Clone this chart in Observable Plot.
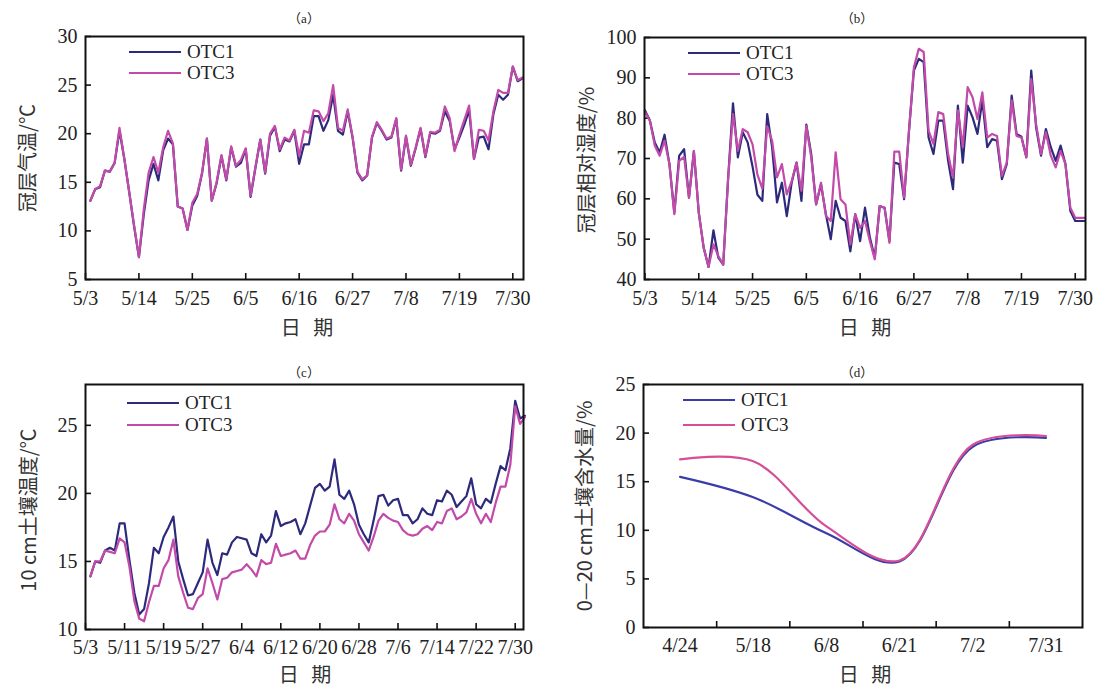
<!DOCTYPE html>
<html><head><meta charset="utf-8">
<script src="https://cdn.jsdelivr.net/npm/d3@7"></script>
<script src="https://cdn.jsdelivr.net/npm/@observablehq/plot@0.6"></script>
<style>
body{margin:0;background:#fff;}
#root{position:relative;width:1099px;height:697px;overflow:hidden;background:#fff;font-family:"Liberation Serif","Noto Sans CJK SC",serif;color:#222;}
.panel{position:absolute;}
.t{position:absolute;white-space:nowrap;color:#222;line-height:1;}
.ylab{position:absolute;white-space:nowrap;font-size:20px;line-height:1;transform:translate(-50%,-50%) rotate(-90deg);font-family:"Noto Sans CJK SC","Liberation Serif",sans-serif;color:#333;}
.xlab{position:absolute;white-space:nowrap;font-size:20px;line-height:1;transform:translate(-50%,-50%);font-family:"Noto Sans CJK SC",sans-serif;color:#333;word-spacing:8px;}
.ptitle{position:absolute;font-size:13px;transform:translate(-50%,-50%);font-family:"Liberation Serif","Noto Sans CJK SC",serif;}
.leg{position:absolute;font-size:19px;font-family:"Liberation Serif",serif;}
.leg .row{display:flex;align-items:center;}
.leg svg{margin-right:6px;}
</style>
</head><body>
<div id="root"></div>
<script>
// ---------------- data ----------------
const YEAR = 2015;
const seriesNames = ["OTC1", "OTC3"];

// (a) canopy air temperature, daily from 5/4
const airTempStart = "5/4";
const airTempOTC1 = [13.1,14.3,14.5,16.2,16.1,17.0,20.3,17.4,14.0,10.5,7.3,11.7,15.2,16.9,15.2,18.3,19.5,18.9,12.5,12.3,10.1,12.6,13.6,15.9,19.5,13.1,14.9,17.7,15.2,18.6,16.6,17.0,18.4,13.5,16.5,19.4,15.9,19.8,20.7,18.2,19.4,19.2,20.3,16.9,18.9,18.9,21.8,21.8,20.3,21.4,24.0,20.3,19.9,22.3,19.6,16.0,15.2,15.7,19.6,21.1,20.3,19.4,19.6,21.5,16.2,19.7,16.7,18.5,20.5,17.6,20.1,20.0,20.3,22.3,21.3,18.4,19.6,20.9,22.4,17.4,19.6,19.7,18.4,22.0,24.0,23.5,24.0,26.9,25.4,25.7];
const airTempOTC3 = [13.1,14.3,14.6,16.2,16.1,17.0,20.6,17.4,14.0,10.6,7.3,12.2,16.0,17.6,16.0,18.6,20.3,19.0,12.5,12.3,10.1,12.9,13.8,16.0,19.5,13.1,15.0,17.8,15.3,18.7,16.7,17.3,18.5,13.6,16.6,19.4,16.0,20.0,20.8,18.4,19.6,19.3,20.4,17.7,20.3,20.1,22.4,22.3,21.3,22.1,25.0,20.6,20.3,22.5,19.7,16.1,15.3,15.7,19.7,21.2,20.4,19.5,19.7,21.6,16.3,19.8,16.8,18.6,20.6,17.7,20.2,20.1,20.4,22.8,21.6,18.2,19.9,21.4,22.9,17.4,20.4,20.3,19.3,22.3,24.5,24.2,24.2,26.9,25.5,25.8];

// (b) canopy relative humidity, daily from 5/3
const rhStart = "5/3";
const rhOTC1 = [81.9,79.4,74.0,71.5,75.9,68.6,56.6,70.7,72.3,60.3,71.8,56.6,47.9,43.1,52.2,45.4,43.7,65.0,83.7,70.3,76.5,74.0,68.0,61.0,59.5,81.0,72.8,59.1,64.0,55.7,64.0,69.0,59.5,78.4,71.1,58.6,63.6,56.2,50.0,59.5,55.3,54.5,47.0,56.2,49.5,57.8,50.4,45.4,58.2,57.8,49.5,69.0,68.6,59.9,76.9,91.8,94.7,93.9,75.2,71.1,79.4,79.4,69.4,62.4,83.1,69.0,83.1,80.2,76.1,84.4,72.8,74.8,74.4,64.9,68.6,85.6,76.1,75.4,70.3,91.8,77.7,70.7,77.3,72.8,69.4,73.2,68.6,57.0,54.5,54.5,54.5];
const rhOTC3 = [81.5,79.4,73.2,70.7,74.4,68.6,56.2,69.4,70.4,60.3,71.9,56.6,47.9,43.1,48.7,45.8,43.7,65.0,81.0,71.9,77.3,76.5,73.5,66.0,62.5,78.0,74.4,65.3,68.6,61.1,64.4,69.0,62.0,78.1,70.3,58.6,64.0,55.8,54.5,71.5,59.9,58.6,48.7,56.2,52.8,54.5,49.5,45.0,58.2,57.8,49.1,71.7,71.7,60.3,76.9,92.6,97.2,96.4,76.9,73.6,81.5,81.0,71.1,65.3,81.9,72.8,87.7,85.2,79.8,86.4,75.2,76.1,75.6,65.7,69.0,84.4,75.6,75.2,70.3,89.7,78.5,71.1,76.5,70.7,67.8,71.9,68.6,57.8,55.3,55.3,55.3];

// (c) 10 cm soil temperature, daily from 5/4
const soilTempStart = "5/4";
const soilTempOTC1 = [13.9,15.0,14.9,15.8,16.0,15.8,17.8,17.8,15.1,12.7,11.1,11.5,13.4,16.0,15.6,16.8,17.5,18.3,15.0,13.7,12.5,12.6,13.4,14.2,16.6,14.9,14.0,15.6,15.5,16.4,16.8,16.7,16.6,15.6,15.4,17.0,16.4,16.9,18.7,17.6,17.8,17.9,18.1,17.0,17.8,19.1,20.4,20.7,20.2,20.5,22.5,19.9,19.6,20.2,19.2,17.7,17.0,16.4,18.0,19.8,19.9,19.1,19.5,19.6,18.4,18.4,17.8,18.1,18.9,18.5,18.4,19.5,19.4,20.2,19.9,19.0,19.4,19.8,21.1,19.2,18.9,19.6,19.3,20.7,22.0,21.7,23.3,26.8,25.5,25.7];
const soilTempOTC3 = [13.9,15.0,15.0,15.8,15.7,15.6,16.7,16.4,14.6,12.1,10.8,10.6,12.0,13.2,13.2,14.5,15.1,16.6,13.9,12.7,11.6,11.5,12.3,12.6,14.5,13.4,12.2,13.7,13.8,14.2,14.3,14.4,14.8,14.4,13.9,15.1,14.8,14.9,16.3,15.4,15.5,15.6,15.8,15.2,15.2,16.2,16.9,17.2,17.2,17.7,19.2,18.1,17.8,18.5,18.0,17.0,16.4,15.8,16.8,18.0,18.5,18.2,18.0,17.9,17.3,17.0,16.9,17.0,17.4,17.6,17.3,17.9,17.8,18.7,18.9,18.1,18.3,18.6,19.6,18.5,17.8,18.5,17.9,19.3,20.5,20.5,22.1,26.4,25.1,25.6];

// (d) 0-20 cm soil water content
const soilWaterDates = ["4/24","5/18","6/8","6/21","7/2","7/31"];
const soilWaterOTC1 = [15.5,13.4,9.7,6.8,18.6,19.5];
const soilWaterOTC3 = [17.3,17.1,10.4,6.9,18.8,19.7];

// tick labels
const xTicksAB = ["5/3","5/14","5/25","6/5","6/16","6/27","7/8","7/19","7/30"];
const xTicksC = ["5/3","5/11","5/19","5/27","6/4","6/12","6/20","6/28","7/6","7/14","7/22","7/30"];
const yTicksA = [5,10,15,20,25,30];
const yTicksB = [40,50,60,70,80,90,100];
const yTicksC = [10,15,20,25];
const yTicksD = [0,5,10,15,20,25];

// texts
const panelTitles = ["（a）","（b）","（c）","（d）"];
const yLabels = ["冠层气温/℃","冠层相对湿度/%","10 cm土壤温度/℃","0—20 cm土壤含水量/%"];
const xLabel = "日 期";

// ---------------- helpers ----------------
const DAY = 864e5;
function md(s){const [m,d]=s.split("/").map(Number);return new Date(Date.UTC(YEAR,m-1,d));}
function plus(s,days){return new Date(+md(s)+days*DAY);}
function daily(start, vals){return vals.map((v,i)=>({x:new Date(+md(start)+i*DAY), v}));}
const fmtMD = d => `${d.getUTCMonth()+1}/${d.getUTCDate()}`;

const root = document.getElementById("root");
function addText(cls, text, x, y, extra){const e=document.createElement("div");e.className=cls;e.textContent=text;e.style.left=x+"px";e.style.top=y+"px";if(extra)Object.assign(e.style,extra);root.appendChild(e);return e;}
function legend(x, y, rowH, colors){
  const box=document.createElement("div");box.className="leg";box.style.left=x+"px";box.style.top=y+"px";
  seriesNames.forEach((n,i)=>{
    const r=document.createElement("div");r.className="row";r.style.height=rowH+"px";
    r.innerHTML=`<svg width="52" height="6"><line x1="0" x2="52" y1="3" y2="3" stroke="${colors[i]}" stroke-width="2.2"/></svg><span>${n}</span>`;
    box.appendChild(r);
  });
  root.appendChild(box);
}

function makePanel(o){
  const fw = o.width - o.ml - o.mr, fh = o.height - o.mt - o.mb;
  const marks = [
    Plot.ruleX(o.xTickVals, {x: d=>d, stroke:"#111", strokeWidth:1.6, insetTop: fh-6}),
    Plot.ruleY(o.yTicks, {y: d=>d, stroke:"#111", strokeWidth:1.6, insetRight: fw-6}),
    ...o.series.map((s,i)=>Plot.line(s, {x:"x", y:"v", stroke:o.colors[i], strokeWidth:2.2, curve:o.curve||"linear"})),
    Plot.frame({stroke:"#111", strokeWidth:2}),
    Plot.axisX(o.xLabelVals, {tickSize:0, tickPadding:o.xPad||9, tickFormat:o.xFormat, fontSize:20, fill:"#222"}),
    Plot.axisY(o.yTicks, {tickSize:0, tickPadding:8, fontSize:20, fill:"#222"})
  ];
  const p = Plot.plot({
    width:o.width, height:o.height, marginLeft:o.ml, marginRight:o.mr, marginTop:o.mt, marginBottom:o.mb,
    x: Object.assign({label:null}, o.x),
    y: {domain:o.yDomain, label:null},
    style:{fontFamily:'"Liberation Serif",serif', fontSize:"20px", background:"transparent", overflow:"visible"},
    marks
  });
  p.classList.add("panel");
  p.style.left=o.left+"px"; p.style.top=o.top+"px";
  root.appendChild(p);
}

const C_ABC = ["#2d2a7c","#c24aa8"];
const C_D = ["#3a3ca8","#d44f96"];

// (a)
makePanel({left:0, top:0, width:540, height:345, ml:85, mr:17, mt:36, mb:66, xPad:11,
  x:{type:"utc", domain:[md("5/3"), plus("5/3",90.2)]},
  xTickVals: xTicksAB.map(md), xLabelVals: xTicksAB.map(md), xFormat: fmtMD,
  yDomain:[5,30], yTicks:yTicksA, colors:C_ABC,
  series:[daily(airTempStart,airTempOTC1), daily(airTempStart,airTempOTC3)]
});
// (b)
makePanel({left:560, top:0, width:539, height:345, ml:84, mr:14, mt:37, mb:66, xPad:11,
  x:{type:"utc", domain:[plus("5/3",-0.1), plus("5/3",90.1)]},
  xTickVals: xTicksAB.map(md), xLabelVals: xTicksAB.map(md), xFormat: fmtMD,
  yDomain:[40,100], yTicks:yTicksB, colors:C_ABC,
  series:[daily(rhStart,rhOTC1), daily(rhStart,rhOTC3)]
});
// (c)
makePanel({left:0, top:350, width:540, height:345, ml:85, mr:17, mt:34, mb:66, xPad:10,
  x:{type:"utc", domain:[md("5/3"), plus("5/3",89.7)]},
  xTickVals: xTicksC.map(md), xLabelVals: xTicksC.map(md), xFormat: fmtMD,
  yDomain:[10,28], yTicks:yTicksC, colors:C_ABC,
  series:[daily(soilTempStart,soilTempOTC1), daily(soilTempStart,soilTempOTC3)]
});
// (d)
const nD = soilWaterDates.length;
makePanel({left:560, top:350, width:539, height:345, ml:83, mr:17, mt:34, mb:68, xPad:10,
  x:{type:"linear", domain:[-0.5, nD-0.5]},
  xTickVals: d3.range(1,nD).map(i=>i-0.5), xLabelVals: d3.range(nD), xFormat: i=>soilWaterDates[i],
  yDomain:[0,25], yTicks:yTicksD, colors:C_D, curve:"catmull-rom",
  series:[soilWaterOTC1, soilWaterOTC3].map(a=>a.map((v,i)=>({x:i,v})))
});

// titles & labels
[[304,17],[857,17],[304,371],[857,371]].forEach(([x,y],i)=>addText("ptitle", panelTitles[i], x, y));
addText("ylab", yLabels[0], 27, 158);
addText("ylab", yLabels[1], 586, 160);
addText("ylab", yLabels[2], 28, 510);
addText("ylab", yLabels[3], 584, 506);
addText("xlab", xLabel, 307, 327);
addText("xlab", xLabel, 865, 327);
addText("xlab", xLabel, 305, 674);
addText("xlab", xLabel, 865, 674);

legend(129, 42, 20.5, C_ABC);
legend(688, 42, 21, C_ABC);
legend(127, 392, 22, C_ABC);
legend(683, 387, 25, C_D);
</script>
</body></html>
